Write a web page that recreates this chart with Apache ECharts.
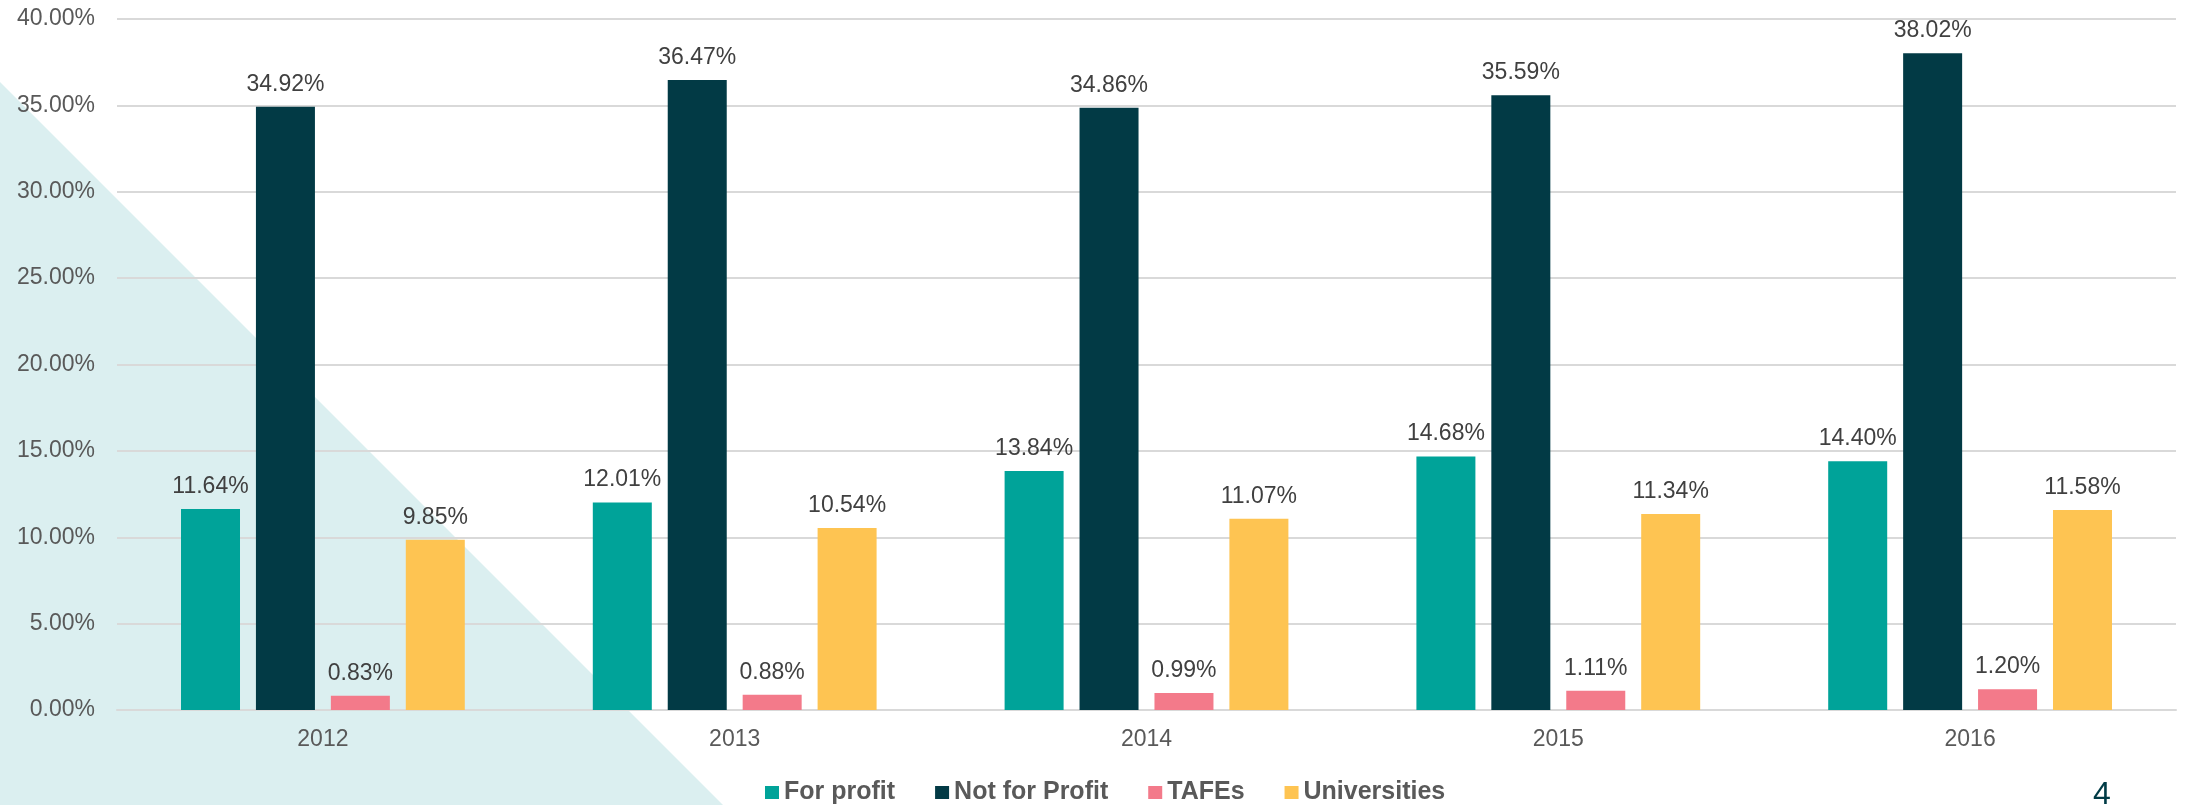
<!DOCTYPE html>
<html>
<head>
<meta charset="utf-8">
<script src="https://cdn.jsdelivr.net/npm/echarts@6/dist/echarts.min.js"></script>
<style>
  html, body { margin: 0; padding: 0; background: #fff; }
  #chart { width: 2185px; height: 805px; }
</style>
</head>
<body>
<div id="chart"></div>
<script>
// years on the x axis
const years = ['2012', '2013', '2014', '2015', '2016'];

// share of each provider type, in percent
const forProfit = [11.64, 12.01, 13.84, 14.68, 14.40];
const notForProfit = [34.92, 36.47, 34.86, 35.59, 38.02];
const tafes = [0.83, 0.88, 0.99, 1.11, 1.20];
const universities = [9.85, 10.54, 11.07, 11.34, 11.58];

const seriesNames = ['For profit', 'Not for Profit', 'TAFEs', 'Universities'];
const colors = ['#00A399', '#023A45', '#F37A8A', '#FEC452'];

const font = 'Liberation Sans, Arial, sans-serif';
const pct = v => v.toFixed(2) + '%';

const chart = echarts.init(document.getElementById('chart'));

const makeBar = (name, data, color) => ({
  name: name,
  type: 'bar',
  data: data,
  barWidth: 59,
  barGap: '27%',
  itemStyle: { color: color },
  label: {
    show: true,
    position: 'top',
    distance: 11,
    color: '#404040',
    fontSize: 23,
    fontFamily: font,
    formatter: p => pct(p.value)
  }
});

const option = {
  backgroundColor: '#fff',
  animation: false,
  textStyle: { fontFamily: font },
  grid: { left: 117, right: 9, top: 19, bottom: 95 },
  legend: {
    data: seriesNames,
    left: 760,
    top: 775,
    itemWidth: 14,
    itemHeight: 13,
    itemGap: 40,
    icon: 'rect',
    textStyle: { color: '#595959', fontSize: 25, fontWeight: 'bold', fontFamily: font }
  },
  xAxis: {
    type: 'category',
    data: years,
    axisLine: { lineStyle: { color: '#D9D9D9', width: 2 } },
    axisTick: { show: false },
    axisLabel: { color: '#595959', fontSize: 23, fontFamily: font, margin: 18 }
  },
  yAxis: {
    type: 'value',
    min: 0,
    max: 40,
    interval: 5,
    axisLine: { show: false },
    axisTick: { show: false },
    splitLine: { lineStyle: { color: '#D9D9D9', width: 2 } },
    axisLabel: { color: '#595959', fontSize: 23, fontFamily: font, margin: 22, formatter: v => pct(v) }
  },
  graphic: [
    {
      type: 'polygon',
      z: -100,
      silent: true,
      shape: { points: [[0, 82], [723, 805], [0, 805]] },
      style: { fill: '#DBEFF0' }
    },
    {
      type: 'text',
      left: 2093,
      top: 779,
      style: { text: '4', fill: '#003B46', fontSize: 32, fontFamily: font }
    }
  ],
  series: [
    makeBar(seriesNames[0], forProfit, colors[0]),
    makeBar(seriesNames[1], notForProfit, colors[1]),
    makeBar(seriesNames[2], tafes, colors[2]),
    makeBar(seriesNames[3], universities, colors[3])
  ]
};

chart.setOption(option);
</script>
</body>
</html>
